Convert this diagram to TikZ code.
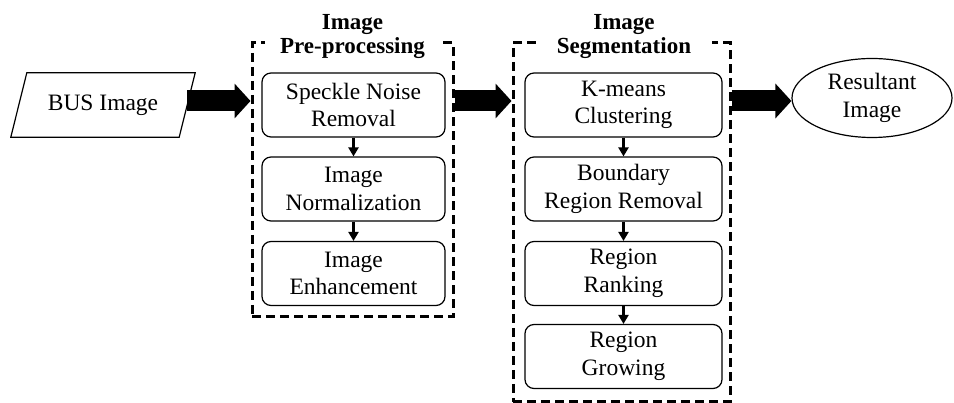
\documentclass[tikz,border=0pt]{standalone}
\usepackage{fontspec}
\setmainfont{Liberation Serif}
\usetikzlibrary{arrows.meta,shapes.geometric}
\tikzset{
  proc/.style={draw, rounded corners=9pt, line width=1.2pt, minimum height=64pt,
    align=center, inner sep=0pt, font=\fontsize{23.5}{27.5}\selectfont},
  frame/.style={draw, dashed, dash pattern=on 9pt off 5pt, line width=3pt, inner sep=0pt},
  ttl/.style={fill=white, align=center, inner xsep=0pt, inner ysep=1pt, minimum width=176pt,
    font=\bfseries\fontsize{23}{24}\selectfont},
  bigarrow/.style={line width=21pt, -{Triangle[length=16pt,width=34pt]}},
  smallarrow/.style={line width=2.2pt, -{Triangle[length=9pt,width=10pt]}},
  plain/.style={font=\fontsize{23.5}{27.5}\selectfont, align=center, inner sep=0pt}
}
\begin{document}
\begin{tikzpicture}[x=1pt,y=-1pt]
\useasboundingbox (0,0) rectangle (954,403);
% frames
\node[frame, minimum width=201pt, minimum height=274pt] (pre) at (352.5,180) {};
\node[frame, minimum width=217pt, minimum height=359pt] (seg) at (621.5,222.5) {};
\node[ttl] (pret) at (352.5,36.5) {Image\\Pre-processing};
\node[ttl] (segt) at (624,36.5) {Image\\Segmentation};
% input
\node[plain, minimum width=168pt, minimum height=64pt] (bus) at (103,105) {BUS Image};
\draw[line width=1.2pt] ([xshift=-8pt]bus.south west) -- ([xshift=8pt]bus.north west)
  -- ([xshift=8pt]bus.north east) -- ([xshift=-8pt]bus.south east) -- cycle;
% output
\node[draw, ellipse, line width=1.2pt, minimum width=160pt, minimum height=79pt, inner sep=0pt,
  align=center, font=\fontsize{23.5}{27.5}\selectfont] (res) at (872,98) {Resultant\\Image};
% pre-processing boxes
\node[proc, minimum width=183pt] (p1) at (353.5,105) {Speckle Noise\\Removal};
\node[proc, minimum width=183pt] (p2) at (353.5,189) {Image\\Normalization};
\node[proc, minimum width=183pt] (p3) at (353.5,273.5) {Image\\Enhancement};
% segmentation boxes
\node[proc, minimum width=197pt] (s1) at (623.5,105) {K-means\\Clustering};
\node[proc, minimum width=197pt] (s2) at (623.5,189) {Boundary\\Region Removal};
\node[proc, minimum width=197pt] (s3) at (623.5,273.5) {Region\\Ranking};
\node[proc, minimum width=197pt] (s4) at (623.5,356.5) {Region\\Growing};
% small arrows
\draw[smallarrow] (p1) -- (p2);
\draw[smallarrow] (p2) -- (p3);
\draw[smallarrow] (s1) -- (s2);
\draw[smallarrow] (s2) -- (s3);
\draw[smallarrow] (s3) -- (s4);
% big arrows
\draw[bigarrow] ([yshift=4pt]bus.east) -- ([yshift=4pt]bus.east -| pre.west);
\draw[bigarrow] ([yshift=4pt]bus.east -| pre.east) -- ([yshift=4pt]bus.east -| seg.west);
\draw[bigarrow] ([yshift=4pt]bus.east -| seg.east) -- ([yshift=4pt]bus.east -| res.west);
\end{tikzpicture}
\end{document}
